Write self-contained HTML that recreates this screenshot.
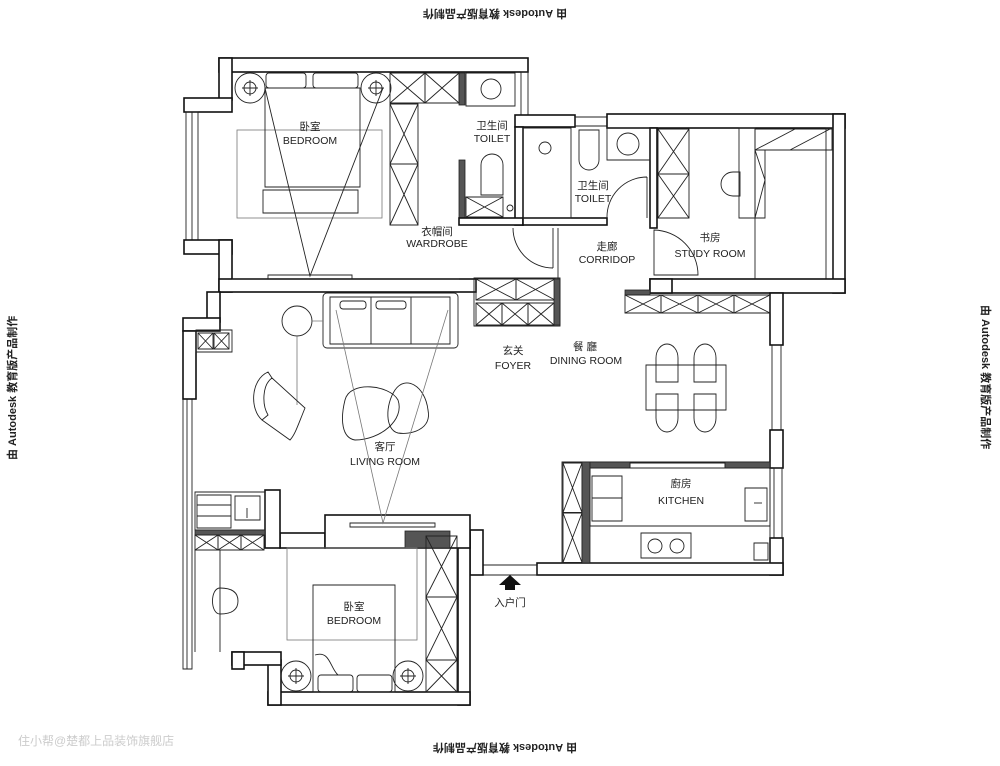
<!DOCTYPE html>
<html><head><meta charset="utf-8"><style>
html,body{margin:0;padding:0;background:#fff;}
svg{display:block;font-family:"Liberation Sans","Noto Sans CJK SC",sans-serif;}
.w{fill:#fff;stroke:#111;stroke-width:1.6}
.t{fill:none;stroke:#222;stroke-width:0.9;vector-effect:non-scaling-stroke}
.g{fill:none;stroke:#777;stroke-width:0.8}
.h{fill:#555;stroke:#222;stroke-width:0.8}
.lb{font-size:10.5px;fill:#222;text-anchor:middle}
</style></head><body>
<svg width="1000" height="766" viewBox="0 0 1000 766" xmlns="http://www.w3.org/2000/svg">
<defs>
<g id="xb"><rect width="10" height="10" class="t"/><path d="M0 0L10 10M10 0L0 10" class="t"/></g>
</defs>
<text x="495" y="18" font-size="11" font-weight="bold" text-anchor="middle" fill="#222" transform="rotate(180 495 14)">由 Autodesk 教育版产品制作</text>
<text x="505" y="752" font-size="11" font-weight="bold" text-anchor="middle" fill="#222" transform="rotate(180 505 748)">由 Autodesk 教育版产品制作</text>
<text x="0" y="0" font-size="11" font-weight="bold" fill="#222" transform="translate(16,460) rotate(-90)">由 Autodesk 教育版产品制作</text>
<text x="0" y="0" font-size="11" font-weight="bold" fill="#222" transform="translate(982,305) rotate(90)">由 Autodesk 教育版产品制作</text>
<text x="18" y="745" font-size="12" fill="#ccc">住小帮@楚都上品装饰旗舰店</text>

<rect class="w" x="219" y="58" width="309" height="14"/>
<rect class="w" x="219" y="58" width="13" height="42"/>
<rect class="w" x="184" y="98" width="48" height="14"/>
<rect class="t" x="186" y="112" width="12" height="128"/><line class="t" x1="192" y1="112" x2="192" y2="240"/>
<rect class="w" x="184" y="240" width="48" height="14"/>
<rect class="w" x="219" y="240" width="13" height="52"/>
<rect class="w" x="219" y="279" width="257" height="13"/>
<rect class="t" x="521" y="72" width="7" height="43"/>
<rect class="w" x="515" y="115" width="60" height="12"/>
<rect class="t" x="575" y="117" width="32" height="9"/>
<rect class="w" x="607" y="114" width="238" height="14"/>
<rect class="w" x="833" y="114" width="12" height="179"/>
<rect class="t" x="826" y="128" width="7" height="151"/>
<rect class="w" x="650" y="279" width="195" height="14"/>
<rect class="w" x="650" y="279" width="22" height="14"/>
<rect class="w" x="770" y="293" width="13" height="52"/>
<rect class="t" x="772" y="345" width="9" height="85"/>
<rect class="w" x="770" y="430" width="13" height="38"/>
<rect class="t" x="774" y="468" width="8" height="70"/>
<rect class="w" x="770" y="538" width="13" height="37"/>
<rect class="w" x="537" y="563" width="246" height="12"/>
<rect class="t" x="483" y="565" width="54" height="10"/>
<rect class="w" x="470" y="530" width="13" height="45"/>
<rect class="w" x="458" y="533" width="12" height="172"/>
<rect class="w" x="268" y="692" width="202" height="13"/>
<rect class="w" x="268" y="660" width="13" height="45"/>
<rect class="w" x="232" y="652" width="49" height="13"/>
<rect class="t" x="183" y="399" width="9" height="270"/><line class="t" x1="187" y1="399" x2="187" y2="669"/>
<rect class="w" x="232" y="652" width="12" height="17"/>
<rect class="w" x="207" y="292" width="13" height="30"/>
<rect class="w" x="183" y="318" width="37" height="13"/>
<rect class="w" x="183" y="331" width="13" height="68"/>
<rect class="w" x="280" y="533" width="45" height="15"/>
<rect class="w" x="325" y="515" width="145" height="33"/>
<rect class="t" x="350" y="523" width="85" height="4"/>
<rect class="h" x="405" y="531" width="45" height="17"/>
<rect class="w" x="265" y="490" width="15" height="58"/>

<rect class="h" x="459" y="73" width="6" height="32"/>
<rect class="h" x="459" y="160" width="6" height="65"/>
<rect class="w" x="515" y="127" width="8" height="98"/>
<rect class="w" x="459" y="218" width="64" height="7"/>
<rect class="w" x="523" y="218" width="84" height="7"/>
<rect class="w" x="650" y="128" width="7" height="100"/>
<line class="t" x1="558" y1="228" x2="558" y2="293"/>
<line class="t" x1="232" y1="279" x2="459" y2="279"/>

<rect class="g" x="237" y="130" width="145" height="88"/>
<rect class="t" x="265" y="88" width="95" height="99" fill="#fff"/>
<rect class="t" x="266" y="73" width="40" height="15" rx="3"/>
<rect class="t" x="313" y="73" width="45" height="15" rx="3"/>
<rect class="t" x="263" y="190" width="95" height="23"/>
<circle class="t" cx="250" cy="88" r="15"/><circle class="t" cx="250" cy="88" r="6"/><path class="t" d="M242 88H258M250 80V96"/>
<circle class="t" cx="376" cy="88" r="15"/><circle class="t" cx="376" cy="88" r="6"/><path class="t" d="M368 88H384M376 80V96"/>
<path class="t" d="M265 88L310 276L383 88"/>
<rect class="t" x="268" y="275" width="84" height="4"/>
<text class="lb" x="310" y="130">卧室</text><text class="lb" x="310" y="144">BEDROOM</text>
<use href="#xb" transform="translate(390,73) scale(3.5,3)"/>
<use href="#xb" transform="translate(425,73) scale(3.4,3)"/>
<use href="#xb" transform="translate(390,104) scale(2.8,6)"/>
<use href="#xb" transform="translate(390,164) scale(2.8,6.1)"/>
<text class="lb" x="437" y="235">衣帽间</text><text class="lb" x="437" y="247" font-size="9.5">WARDROBE</text>
<path class="t" d="M553 228V268M513 228A40 40 0 0 0 553 268"/>
<rect class="t" x="466" y="73" width="49" height="33"/>
<circle class="t" cx="491" cy="89" r="10"/>
<path class="t" d="M481 195V165A11 11 0 0 1 503 165V195Z"/>
<use href="#xb" transform="translate(466,197) scale(3.7,2)"/>
<circle class="t" cx="510" cy="208" r="3"/>
<text class="lb" x="492" y="129">卫生间</text><text class="lb" x="492" y="142">TOILET</text>
<rect class="t" x="523" y="128" width="48" height="90"/>
<circle class="t" cx="545" cy="148" r="6"/>
<path class="t" d="M579 130H599V160A10 10 0 0 1 579 160Z"/>
<rect class="t" x="607" y="128" width="43" height="32"/>
<circle class="t" cx="628" cy="144" r="11"/>
<text class="lb" x="593" y="189">卫生间</text><text class="lb" x="593" y="202">TOILET</text>
<path class="t" d="M647 177V218M607 218A40 40 0 0 1 647 177"/>
<text class="lb" x="607" y="250">走廊</text><text class="lb" x="607" y="263">CORRIDOP</text>
<use href="#xb" transform="translate(658,129) scale(3.1,4.5)"/>
<use href="#xb" transform="translate(658,174) scale(3.1,4.4)"/>
<rect class="t" x="739" y="128" width="16" height="90"/>
<path class="t" d="M733 172A10 10 0 0 0 733 196H740V172Z"/>
<rect class="t" x="755" y="129" width="77" height="21"/>
<path class="t" d="M755 150L795 129M790 150L830 129"/>
<rect class="t" x="755" y="150" width="10" height="68"/>
<path class="t" d="M755 150L765 180L755 218"/>
<line class="t" x1="755" y1="218" x2="755" y2="279"/>
<path class="t" d="M654 230A45 45 0 0 1 698 275H654Z"/>
<text class="lb" x="710" y="241">书房</text><text class="lb" x="710" y="257">STUDY ROOM</text>

<use href="#xb" transform="translate(476,279) scale(4,2.1)"/>
<use href="#xb" transform="translate(516,279) scale(3.9,2.1)"/>
<use href="#xb" transform="translate(476,303) scale(2.6,2.2)"/>
<use href="#xb" transform="translate(502,303) scale(2.6,2.2)"/>
<use href="#xb" transform="translate(528,303) scale(2.6,2.2)"/>
<rect class="h" x="554" y="279" width="6" height="46"/>
<rect class="t" x="474" y="278" width="86" height="48"/>
<rect class="h" x="625" y="290" width="25" height="5"/>
<use href="#xb" transform="translate(625,295) scale(3.6,1.8)"/>
<use href="#xb" transform="translate(661,295) scale(3.7,1.8)"/>
<use href="#xb" transform="translate(698,295) scale(3.6,1.8)"/>
<use href="#xb" transform="translate(734,295) scale(3.6,1.8)"/>
<text class="lb" x="585" y="350">餐 廳</text><text class="lb" x="586" y="364">DINING ROOM</text>
<text class="lb" x="513" y="354">玄关</text><text class="lb" x="513" y="369">FOYER</text>
<rect class="t" x="646" y="365" width="80" height="45"/>
<path class="t" d="M656 382V358A11 14 0 0 1 678 358V382Z"/>
<path class="t" d="M694 382V358A11 14 0 0 1 716 358V382Z"/>
<path class="t" d="M656 394V418A11 14 0 0 0 678 418V394Z"/>
<path class="t" d="M694 394V418A11 14 0 0 0 716 418V394Z"/>

<rect class="t" x="196" y="330" width="36" height="22"/>
<use href="#xb" transform="translate(198,333) scale(1.5,1.6)"/>
<use href="#xb" transform="translate(214,333) scale(1.5,1.6)"/>
<rect class="t" x="323" y="293" width="135" height="55" rx="4"/>
<rect class="t" x="330" y="297" width="120" height="47"/>
<path class="t" d="M371 297V344M411 297V344"/>
<rect class="t" x="340" y="301" width="26" height="8" rx="3"/><rect class="t" x="376" y="301" width="30" height="8" rx="3"/>
<circle class="t" cx="297" cy="321" r="15"/>
<path class="g" d="M312 321H323M297 336V405"/>
<path class="t" d="M268 372C250 380 250 410 262 420L268 415C262 405 262 385 272 378ZM272 378L305 408C298 425 295 435 290 440L262 420"/>
<path class="t" d="M345 400C350 380 390 385 398 400C405 420 380 440 355 440C342 438 340 420 345 400Z"/>
<path class="t" d="M395 390C405 375 425 385 428 410C432 430 410 435 398 433C385 430 385 405 395 390Z"/>
<path class="g" d="M336 310L383 523L448 310"/>
<text class="lb" x="385" y="450">客厅</text><text class="lb" x="385" y="465">LIVING ROOM</text>

<rect class="t" x="195" y="492" width="70" height="38"/>
<rect class="t" x="197" y="495" width="34" height="33"/>
<path class="t" d="M197 505H231M197 516H231"/>
<rect class="t" x="235" y="496" width="25" height="24"/>
<path class="t" d="M247 508V518"/>
<rect class="h" x="195" y="530" width="70" height="5"/>
<use href="#xb" transform="translate(195,535) scale(2.3,1.5)"/>
<use href="#xb" transform="translate(218,535) scale(2.3,1.5)"/>
<use href="#xb" transform="translate(241,535) scale(2.3,1.5)"/>
<path class="t" d="M195 550V652M220 550V652"/>
<path class="t" d="M220 588C210 588 210 614 220 614C232 614 238 610 238 601C238 592 232 588 220 588Z"/>

<rect class="g" x="287" y="548" width="130" height="92"/>
<rect class="t" x="313" y="585" width="82" height="107" fill="#fff"/>
<rect class="t" x="318" y="675" width="35" height="17" rx="3"/><rect class="t" x="357" y="675" width="35" height="17" rx="3"/>
<path class="t" d="M315 655C330 650 330 668 338 675"/>
<circle class="t" cx="296" cy="676" r="15"/><circle class="t" cx="296" cy="676" r="6"/><path class="t" d="M288 676H304M296 668V684"/>
<circle class="t" cx="408" cy="676" r="15"/><circle class="t" cx="408" cy="676" r="6"/><path class="t" d="M400 676H416M408 668V684"/>
<use href="#xb" transform="translate(426,536) scale(3.1,6.1)"/>
<use href="#xb" transform="translate(426,597) scale(3.1,6.3)"/>
<use href="#xb" transform="translate(426,660) scale(3.1,3.2)"/>
<text class="lb" x="354" y="610">卧室</text><text class="lb" x="354" y="624">BEDROOM</text>

<path d="M499 585L510 575L521 585H515V590H505V585Z" fill="#111"/>
<text class="lb" x="510" y="606" font-size="11">入户门</text>

<rect class="t" x="562" y="462" width="208" height="101"/>
<use href="#xb" transform="translate(563,463) scale(1.9,4.95)"/>
<use href="#xb" transform="translate(563,513) scale(1.9,4.95)"/>
<rect class="h" x="582" y="462" width="8" height="101"/>
<rect class="h" x="590" y="462" width="40" height="6"/>
<rect class="h" x="725" y="462" width="45" height="6"/>
<rect class="t" x="630" y="463" width="95" height="5"/>
<rect class="t" x="590" y="468" width="180" height="58"/>
<rect class="t" x="592" y="476" width="30" height="45"/><path class="t" d="M592 498H622"/>
<rect class="t" x="745" y="488" width="22" height="33"/>
<path class="t" d="M754 503H762"/>
<rect class="t" x="641" y="533" width="50" height="25"/>
<circle class="t" cx="655" cy="546" r="7"/><circle class="t" cx="677" cy="546" r="7"/>
<rect class="t" x="754" y="543" width="14" height="17"/>
<text class="lb" x="681" y="487">廚房</text><text class="lb" x="681" y="504">KITCHEN</text>
</svg>
</body></html>
